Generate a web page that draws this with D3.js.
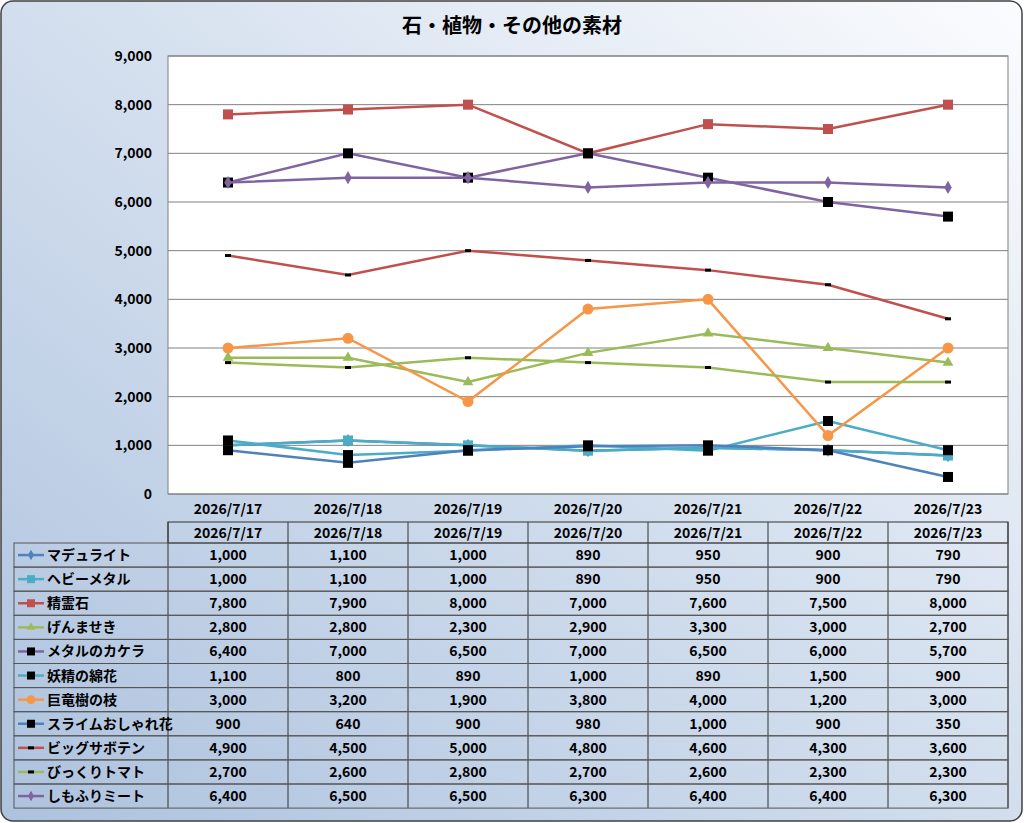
<!DOCTYPE html>
<html><head><meta charset="utf-8">
<script src="https://cdn.jsdelivr.net/npm/d3@7"></script>
<style>body{margin:0;background:#fff}svg{display:block}</style>
</head><body>
<svg id="c" width="1024" height="823"></svg>
<script>
var dates = ["2026/7/17","2026/7/18","2026/7/19","2026/7/20","2026/7/21","2026/7/22","2026/7/23"];
var names = ["マデュライト","ヘビーメタル","精霊石","げんませき","メタルのカケラ","妖精の綿花","巨竜樹の枝","スライムおしゃれ花","ビッグサボテン","びっくりトマト","しもふりミート"];
var values = [
  [1000,1100,1000,890,950,900,790],
  [1000,1100,1000,890,950,900,790],
  [7800,7900,8000,7000,7600,7500,8000],
  [2800,2800,2300,2900,3300,3000,2700],
  [6400,7000,6500,7000,6500,6000,5700],
  [1100,800,890,1000,890,1500,900],
  [3000,3200,1900,3800,4000,1200,3000],
  [900,640,900,980,1000,900,350],
  [4900,4500,5000,4800,4600,4300,3600],
  [2700,2600,2800,2700,2600,2300,2300],
  [6400,6500,6500,6300,6400,6400,6300]
];
var colors = ["#4f81bd","#4bacc6","#c0504d","#9bbb59","#8064a2","#4bacc6","#f79646","#4f81bd","#c0504d","#9bbb59","#8064a2"];
var markers = ["diamond","square","square","triangle","black","black","circle","black","dash","dash","diamond"];
var yTicks = [0,1000,2000,3000,4000,5000,6000,7000,8000,9000];

var svg = d3.select("#c");
var font = "'Noto Sans CJK JP', sans-serif";
var defs = svg.append("defs");
var g = defs.append("linearGradient").attr("id","bg").attr("x1","1").attr("y1","0").attr("x2","0").attr("y2","1");
g.append("stop").attr("offset","0").attr("stop-color","#fbfcfe");
g.append("stop").attr("offset","0.45").attr("stop-color","#d6e1ef");
g.append("stop").attr("offset","1").attr("stop-color","#adc2de");
svg.append("rect").attr("x",1).attr("y",1).attr("width",1021).attr("height",820).attr("rx",12)
  .attr("fill","url(#bg)").attr("stroke","#404040").attr("stroke-width",1.5);

svg.append("text").attr("x",512).attr("y",33).attr("text-anchor","middle")
  .attr("font-family",font).attr("font-weight","bold").attr("font-size",20).text("石・植物・その他の素材");

var x0 = 168, x1 = 1008;
var x = d3.scaleBand().domain(dates).range([x0,x1]);
var y = d3.scaleLinear().domain([0,9000]).range([494,56]);

svg.append("rect").attr("x",x0).attr("y",56).attr("width",x1-x0).attr("height",438).attr("fill","#fff").attr("stroke","#808080");
svg.append("g").selectAll("line").data(yTicks).join("line")
  .attr("x1",x0).attr("x2",x1).attr("y1",d=>y(d)).attr("y2",d=>y(d)).attr("stroke","#808080");
svg.append("g").selectAll("text").data(yTicks).join("text")
  .attr("x",152).attr("y",d=>y(d)+5).attr("text-anchor","end")
  .attr("font-family",font).attr("font-weight","bold").attr("font-size",14).text(d3.format(","));
svg.append("g").selectAll("text").data(dates).join("text")
  .attr("x",d=>x(d)+x.bandwidth()/2).attr("y",514).attr("text-anchor","middle")
  .attr("font-family",font).attr("font-weight","bold").attr("font-size",14).text(d=>d);

function marker(sel, type, color, size) {
  if (type=="circle") sel.append("circle").attr("r",size*0.55).attr("fill",color);
  else if (type=="square") sel.append("rect").attr("x",-size/2).attr("y",-size/2).attr("width",size).attr("height",size).attr("fill",color);
  else if (type=="black") sel.append("rect").attr("x",-size/2).attr("y",-size/2).attr("width",size).attr("height",size).attr("fill","#000");
  else if (type=="diamond") sel.append("path").attr("d",d3.symbol(d3.symbolDiamond,size*size*0.5)).attr("fill",color);
  else if (type=="triangle") sel.append("path").attr("d",d3.symbol(d3.symbolTriangle,size*size*0.5)).attr("fill",color);
  else if (type=="dash") sel.append("rect").attr("x",-3).attr("y",-1.5).attr("width",6).attr("height",3).attr("fill","#000");
}

var line = d3.line().x((d,i)=>x(dates[i])+x.bandwidth()/2).y(d=>y(d));
values.forEach(function(vals,k){
  svg.append("path").attr("d",line(vals)).attr("fill","none").attr("stroke",colors[k]).attr("stroke-width",2.5);
  vals.forEach(function(v,i){
    var m = svg.append("g").attr("transform","translate("+(x(dates[i])+x.bandwidth()/2)+","+y(v)+")");
    marker(m, markers[k], colors[k], 10);
  });
});

// data table
var ty = 522, hh = 21, rh = 24.1, lx = 14;
var t = svg.append("g").attr("font-family",font).attr("font-weight","bold").attr("font-size",14);
t.append("rect").attr("x",x0).attr("y",ty).attr("width",x1-x0).attr("height",hh).attr("fill","none").attr("stroke","#333");
dates.forEach(function(d){
  t.append("line").attr("x1",x(d)).attr("x2",x(d)).attr("y1",ty).attr("y2",ty+hh+rh*names.length).attr("stroke","#333");
  t.append("text").attr("x",x(d)+x.bandwidth()/2).attr("y",ty+16).attr("text-anchor","middle").text(d);
});
t.append("line").attr("x1",x1).attr("x2",x1).attr("y1",ty).attr("y2",ty+hh+rh*names.length).attr("stroke","#333");
names.forEach(function(n,k){
  var ry = ty+hh+rh*k;
  t.append("rect").attr("x",lx).attr("y",ry).attr("width",x1-lx).attr("height",rh).attr("fill","none").attr("stroke","#555");
  t.append("line").attr("x1",lx+4).attr("x2",lx+30).attr("y1",ry+rh/2).attr("y2",ry+rh/2).attr("stroke",colors[k]).attr("stroke-width",2.5);
  marker(t.append("g").attr("transform","translate("+(lx+17)+","+(ry+rh/2)+")"), markers[k], colors[k], 8);
  t.append("text").attr("x",lx+33).attr("y",ry+rh/2+5).text(n);
  values[k].forEach(function(v,i){
    t.append("text").attr("x",x(dates[i])+x.bandwidth()/2).attr("y",ry+rh/2+5).attr("text-anchor","middle").text(d3.format(",")(v));
  });
});
</script>
</body></html>
